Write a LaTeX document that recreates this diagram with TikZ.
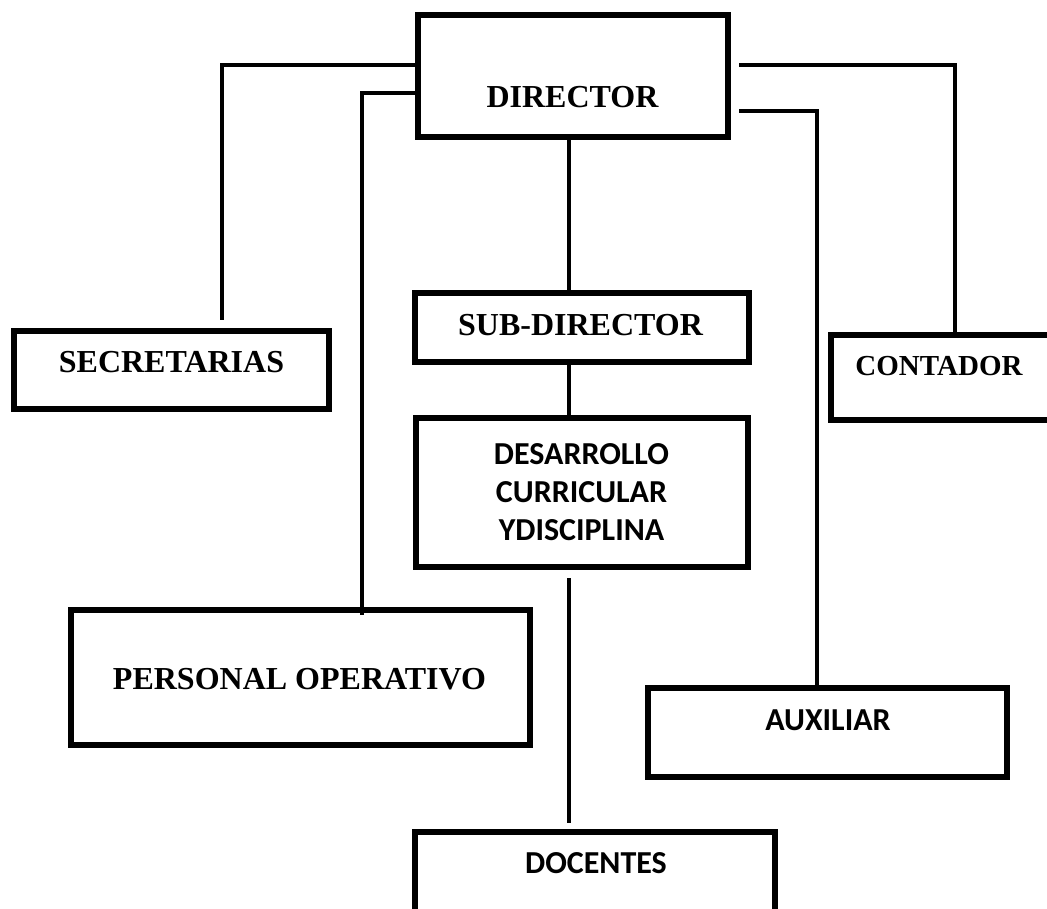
\documentclass[tikz,border=0pt]{standalone}
\usepackage{fontspec}
\setmainfont{Liberation Serif}
\newfontfamily\calib{Carlito}

\begin{document}
\begin{tikzpicture}[
    x=1pt, y=-1pt,
    box/.style={draw, line width=6pt, inner sep=0pt},
    link/.style={line width=3.3pt},
    lbl/.style={font=\bfseries\fontsize{32}{38}\selectfont, inner sep=0pt, anchor=base},
    lbls/.style={font=\calib\bfseries\fontsize{32}{38}\selectfont, inner sep=0pt, align=center}
]
\useasboundingbox (0,0) rectangle (1047,909);
\clip (0,0) rectangle (1047,909);

% Director
\node[box, minimum width=310pt, minimum height=122pt] (dir) at (573,76) {};
\node[lbl] (dirtxt) at (572.5,108) {DIRECTOR};

% Secretarias
\node[box, minimum width=315pt, minimum height=78pt] (sec) at (171.5,370) {};
\node[lbl] (sectxt) at (171.5,373) {SECRETARIAS};

% Contador
\node[box, minimum width=231pt, minimum height=85pt] (con) at (946.5,377.5) {};
\node[lbl, font=\bfseries\fontsize{29}{34}\selectfont] (contxt) at (939,375) {CONTADOR};

% Sub-director
\node[box, minimum width=334pt, minimum height=69pt] (sub) at (582,327.5) {};
\node[lbl] (subtxt) at (580.5,335) {SUB-DIRECTOR};

% Desarrollo curricular
\node[box, minimum width=332pt, minimum height=149pt] (des) at (582,492.5) {};
\node[lbls] (destxt) at (581.5,492) {DESARROLLO\\CURRICULAR\\YDISCIPLINA};

% Personal operativo
\node[box, minimum width=459pt, minimum height=135pt] (per) at (300.5,677.5) {};
\node[lbl] (pertxt) at (299.5,689) {PERSONAL OPERATIVO};

% Auxiliar
\node[box, minimum width=359pt, minimum height=89pt] (aux) at (827.5,732.5) {};
\node[lbls, anchor=base] (auxtxt) at (828,730) {AUXILIAR};

% Docentes
\node[box, minimum width=360pt, minimum height=90pt] (doc) at (595,877) {};
\node[lbls, anchor=base] (doctxt) at (596,873) {DOCENTES};

% Lines
\draw[link, shorten >=8pt] (dir.west |- 0,65) -| (sec.north -| 222,0);
\draw[link, shorten >=-8pt] (dir.west |- 0,93) -| (per.north -| 362,0);
\draw[link, shorten <=8pt, shorten >=-5pt] (dir.east |- 0,65) -| (con.north -| 955,0);
\draw[link, shorten <=8pt] (dir.east |- 0,111) -| (aux.north -| 817,0);
\draw[link] (dir.south -| 569,0) -- (sub.north -| 569,0);
\draw[link] (sub.south -| 569,0) -- (des.north -| 569,0);
\draw[link, shorten <=8pt, shorten >=6pt] (des.south -| 569,0) -- (doc.north -| 569,0);

\end{tikzpicture}
\end{document}
